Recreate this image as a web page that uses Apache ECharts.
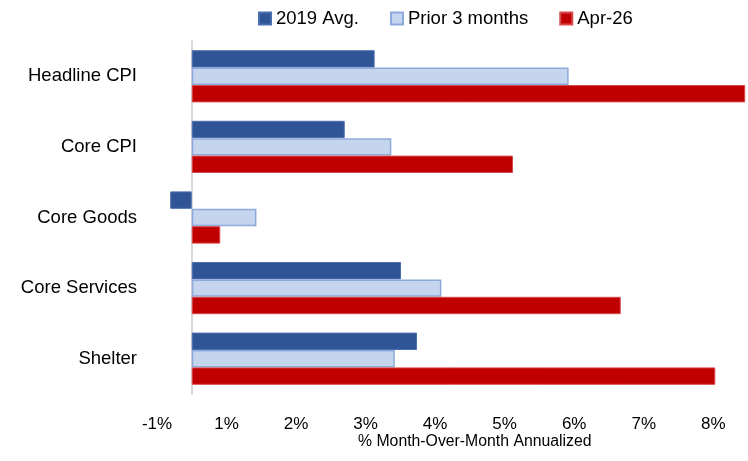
<!DOCTYPE html>
<html>
<head>
<meta charset="utf-8">
<script src="https://cdn.jsdelivr.net/npm/echarts@6/dist/echarts.min.js"></script>
<style>
html, body { margin: 0; padding: 0; background: #fff; }
#myChart { width: 748px; height: 461px; }
</style>
</head>
<body>
<div id="myChart"></div>
<script>
// categories, top to bottom
let categories = ['Headline CPI', 'Core CPI', 'Core Goods', 'Core Services', 'Shelter']
// series values (in axis units)
let avg2019 = [2.63, 2.20, -0.31, 3.01, 3.24]
let prior3m = [5.42, 2.87, 0.93, 3.59, 2.92]
let apr26 = [7.96, 4.62, 0.41, 6.17, 7.53]
// tick labels as printed under the axis and where they sit
let tickValues = [-0.5, 0.5, 1.5, 2.5, 3.5, 4.5, 5.5, 6.5, 7.5]
let tickLabels = ['-1%', '1%', '2%', '3%', '4%', '5%', '6%', '7%', '8%']

let myChart = echarts.init(document.getElementById('myChart'))
let font = '"Liberation Sans", Arial, sans-serif'

let option = {
    animation: false,
    textStyle: { fontFamily: font },
    legend: {
        top: 4,
        left: 253,
        itemWidth: 12,
        itemHeight: 12,
        itemGap: 31,
        icon: 'rect',
        textStyle: { fontSize: 18.5, color: '#000', fontFamily: font },
        data: ['2019 Avg.', 'Prior 3 months', 'Apr-26']
    },
    grid: {
        left: 157,
        right: 0,
        top: 41,
        height: 353,
        containLabel: false,
        outerBoundsMode: 'none'
    },
    xAxis: {
        type: 'value',
        min: -0.5,
        max: 8,
        axisLine: { show: false },
        axisTick: { show: false },
        splitLine: { show: false },
        axisLabel: {
            customValues: tickValues,
            formatter: function (v) {
                let i = tickValues.findIndex(t => Math.abs(t - v) < 1e-6)
                return i >= 0 ? tickLabels[i] : ''
            },
            margin: 22,
            fontSize: 17,
            color: '#000',
            fontFamily: font
        }
    },
    yAxis: {
        type: 'category',
        data: categories,
        inverse: true,
        axisTick: { show: false },
        axisLine: { onZero: true, lineStyle: { color: '#d9d9d9', width: 2 } },
        axisLabel: { margin: 20, fontSize: 18.5, color: '#000', fontFamily: font }
    },
    graphic: [{
        type: 'text',
        left: 358,
        top: 434,
        style: { text: '% Month-Over-Month Annualized', fontSize: 15.8, fill: '#000', fontFamily: font }
    }],
    series: [
        {
            name: '2019 Avg.',
            type: 'bar',
            data: avg2019,
            barWidth: 17.4,
            barGap: '0%',
            barCategoryGap: '26%',
            itemStyle: { color: '#2F5597', borderColor: '#4a6fb0', borderWidth: 1 }
        },
        {
            name: 'Prior 3 months',
            type: 'bar',
            data: prior3m,
            barWidth: 17.4,
            barGap: '0%',
            itemStyle: { color: '#C5D5EE', borderColor: '#8EA9DB', borderWidth: 1.5 }
        },
        {
            name: 'Apr-26',
            type: 'bar',
            data: apr26,
            barWidth: 17.4,
            barGap: '0%',
            itemStyle: { color: '#C00000', borderColor: '#d84a4a', borderWidth: 1 }
        }
    ]
}
myChart.setOption(option)
</script>
</body>
</html>
